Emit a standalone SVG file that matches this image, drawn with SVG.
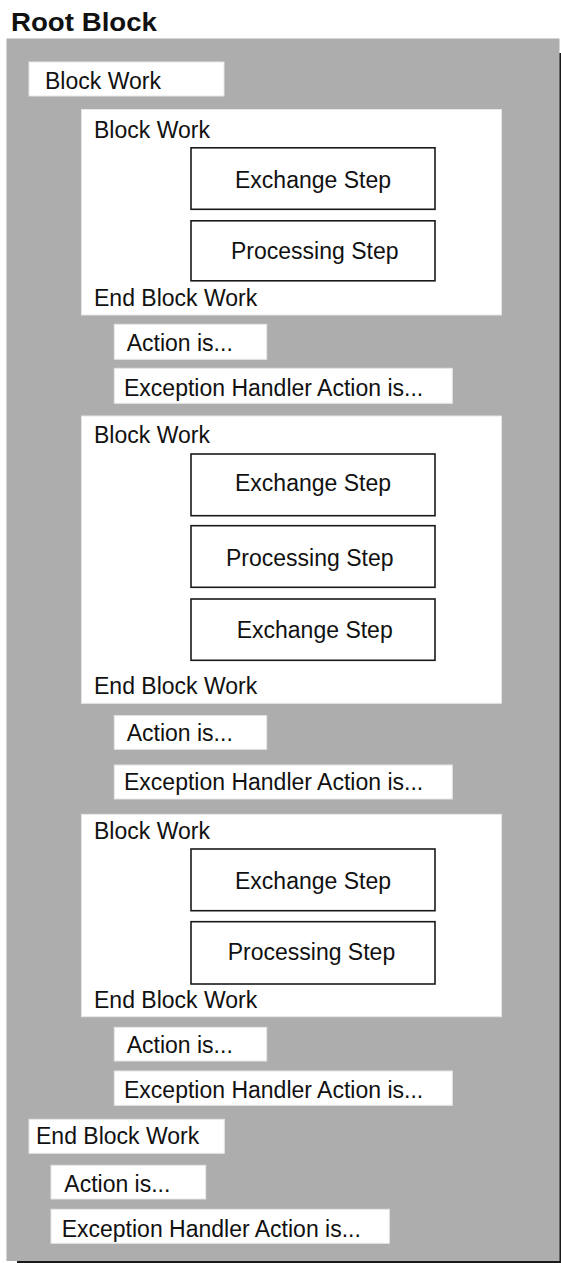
<svg xmlns="http://www.w3.org/2000/svg" width="561" height="1263" viewBox="0 0 561 1263">
<style>
  .t { font-family: "Liberation Sans", Arial, sans-serif; font-size: 23px; fill: #111; }
  .title { font-family: "Liberation Sans", Arial, sans-serif; font-size: 25px; font-weight: bold; fill: #111; }
  .wbox { fill: #ffffff; stroke: #e6e6e6; stroke-width: 1; }
  .step { fill: #ffffff; stroke: #1a1a1a; stroke-width: 1.6; }
  .gray { fill: #adadad; }
  .shadow { fill: #1a1a1a; }
</style>
<rect width="561" height="1263" fill="#ffffff"/>

<g id="root-title">
  <text class="title" x="11" y="31" textLength="146" lengthAdjust="spacingAndGlyphs">Root Block</text>
</g>

<g id="root-block">
  <rect class="shadow" x="17" y="53" width="544" height="1210"/>
  <rect class="gray" x="6.5" y="39" width="553" height="1222"/>
  <line x1="6.5" y1="38.5" x2="559.5" y2="38.5" stroke="#d4d4d4" stroke-width="1"/>
</g>

<g id="block-work-start">
  <rect class="wbox" x="29" y="62" width="195" height="34"/>
  <text class="t" x="45" y="89">Block Work</text>
</g>

<!-- Inner block 1 -->
<g id="inner-block-1">
  <rect class="wbox" x="81.5" y="109.5" width="420" height="205.5"/>
  <text class="t" x="94" y="137.5">Block Work</text>
  <text class="t" x="94" y="306">End Block Work</text>
</g>
<g id="b1-exchange">
  <rect class="step" x="191" y="147.8" width="244" height="61.5"/>
  <text class="t" x="235" y="188.3">Exchange Step</text>
</g>
<g id="b1-processing">
  <rect class="step" x="191" y="220.8" width="244" height="60"/>
  <text class="t" x="231" y="259.3">Processing Step</text>
</g>
<g id="b1-action">
  <rect class="wbox" x="114.3" y="324.3" width="152.4" height="35"/>
  <text class="t" x="126.7" y="351">Action is...</text>
</g>
<g id="b1-exception">
  <rect class="wbox" x="114.3" y="368.3" width="338" height="35"/>
  <text class="t" x="124" y="395.7">Exception Handler Action is...</text>
</g>

<!-- Inner block 2 -->
<g id="inner-block-2">
  <rect class="wbox" x="81.5" y="416" width="420" height="287.3"/>
  <text class="t" x="94" y="442.7">Block Work</text>
  <text class="t" x="94" y="694">End Block Work</text>
</g>
<g id="b2-exchange-1">
  <rect class="step" x="191" y="454" width="244" height="61.7"/>
  <text class="t" x="235" y="490.7">Exchange Step</text>
</g>
<g id="b2-processing">
  <rect class="step" x="191" y="525.7" width="244" height="61.6"/>
  <text class="t" x="226" y="565.7">Processing Step</text>
</g>
<g id="b2-exchange-2">
  <rect class="step" x="191" y="599" width="244" height="61.3"/>
  <text class="t" x="236.7" y="638.3">Exchange Step</text>
</g>
<g id="b2-action">
  <rect class="wbox" x="114.3" y="715.7" width="152.4" height="33.6"/>
  <text class="t" x="126.7" y="741">Action is...</text>
</g>
<g id="b2-exception">
  <rect class="wbox" x="114.3" y="765" width="338" height="34"/>
  <text class="t" x="124" y="790">Exception Handler Action is...</text>
</g>

<!-- Inner block 3 -->
<g id="inner-block-3">
  <rect class="wbox" x="81.5" y="814.3" width="420" height="202.4"/>
  <text class="t" x="94" y="839.3">Block Work</text>
  <text class="t" x="94" y="1008.3">End Block Work</text>
</g>
<g id="b3-exchange">
  <rect class="step" x="191" y="849" width="244" height="61.7"/>
  <text class="t" x="235" y="889.3">Exchange Step</text>
</g>
<g id="b3-processing">
  <rect class="step" x="191" y="921.7" width="244" height="62.3"/>
  <text class="t" x="227.7" y="960">Processing Step</text>
</g>
<g id="b3-action">
  <rect class="wbox" x="114.3" y="1027.3" width="152.4" height="33.7"/>
  <text class="t" x="126.7" y="1053.3">Action is...</text>
</g>
<g id="b3-exception">
  <rect class="wbox" x="114.3" y="1071" width="338" height="34.3"/>
  <text class="t" x="124" y="1097.7">Exception Handler Action is...</text>
</g>

<!-- Root end -->
<g id="block-work-end">
  <rect class="wbox" x="29" y="1119.3" width="195.3" height="34"/>
  <text class="t" x="36" y="1144.3">End Block Work</text>
</g>
<g id="root-action">
  <rect class="wbox" x="51" y="1165.3" width="154.7" height="33.7"/>
  <text class="t" x="64.3" y="1191.7">Action is...</text>
</g>
<g id="root-exception">
  <rect class="wbox" x="51" y="1209.3" width="338.3" height="34"/>
  <text class="t" x="61.7" y="1236.7">Exception Handler Action is...</text>
</g>
</svg>
